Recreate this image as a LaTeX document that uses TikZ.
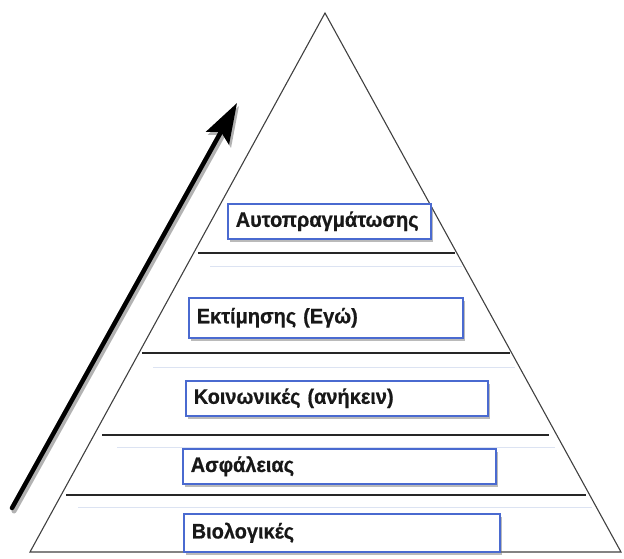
\documentclass[tikz,border=0pt]{standalone}
\usepackage{fontspec}
\setmainfont{Liberation Sans}
\newfontfamily\lblfont[FakeStretch=0.95,FakeBold=0.6]{Liberation Sans Bold}
\usetikzlibrary{arrows.meta,shadows}
\definecolor{boxblue}{HTML}{4A6AD0}
\definecolor{txt}{HTML}{181818}
\definecolor{faint}{HTML}{DCE3F2}
\tikzset{
  x=1pt,y=-1pt,
  lvlbox/.style={draw=boxblue, line width=1.5pt, fill=white, rectangle,
    anchor=north west, inner xsep=8pt, inner ysep=0pt, align=left,
    font=\lblfont\fontsize{21}{23}\selectfont, text=txt,
    drop shadow={shadow xshift=2.5pt, shadow yshift=-3pt, opacity=0.45, fill=black!60}},
  edge/.style={draw=black!75, line width=1.1pt},
  level/.style={draw=black!85, line width=1.2pt},
  faintline/.style={draw=faint, line width=0.8pt},
}
\begin{document}
\begin{tikzpicture}
\useasboundingbox (0,0) rectangle (624,558);
% triangle
\coordinate (apex) at (325,13);
\coordinate (bl) at (30,552);
\coordinate (br) at (621,552);
\draw[edge, line join=miter] (apex) -- (br) -- (bl) -- cycle;
% level lines
\coordinate (l1a) at (198,253); \coordinate (l1b) at (455,253);
\coordinate (l2a) at (142,353); \coordinate (l2b) at (510,353);
\coordinate (l3a) at (102,435); \coordinate (l3b) at (549,435);
\coordinate (l4a) at (66,495);  \coordinate (l4b) at (586,495);
\draw[level] (l1a) -- (l1b);
\draw[level] (l2a) -- (l2b);
\draw[level] (l3a) -- (l3b);
\draw[level] (l4a) -- (l4b);
\coordinate (f1a) at (210,266); \coordinate (f1b) at (462,266);
\coordinate (f2a) at (153,367); \coordinate (f2b) at (515,367);
\coordinate (f3a) at (117,447); \coordinate (f3b) at (555,447);
\coordinate (f4a) at (78,507);  \coordinate (f4b) at (592,507);
\draw[faintline] (f1a) -- (f1b);
\draw[faintline] (f2a) -- (f2b);
\draw[faintline] (f3a) -- (f3b);
\draw[faintline] (f4a) -- (f4b);
% boxes
\node[lvlbox, minimum width=203pt, minimum height=35pt, text width=187pt] (b1) at (227,203) {Αυτοπραγμάτωσης};
\node[lvlbox, minimum width=274pt, minimum height=40pt, text width=258pt] (b2) at (188,297) {Εκτίμησης (Εγώ)};
\node[lvlbox, minimum width=302pt, minimum height=35pt, text width=286pt] (b3) at (185,380) {Κοινωνικές (ανήκειν)};
\node[lvlbox, minimum width=313pt, minimum height=35pt, text width=297pt] (b4) at (182,448) {Ασφάλειας};
\node[lvlbox, minimum width=316pt, minimum height=38pt, text width=300pt] (b5) at (183,513) {Βιολογικές};
% arrow
\coordinate (tail) at (12,508);
\coordinate (tip) at (237,103);
\coordinate (tails) at (14,511);
\coordinate (tips) at (239,106);
\draw[line width=5pt, black!30, line cap=round, -{Stealth[length=40pt,width=26pt,inset=7pt]}] (tails) -- (tips);
\draw[line width=4.5pt, black, line cap=round, -{Stealth[length=40pt,width=26pt,inset=7pt]}] (tail) -- (tip);
\end{tikzpicture}
\end{document}
